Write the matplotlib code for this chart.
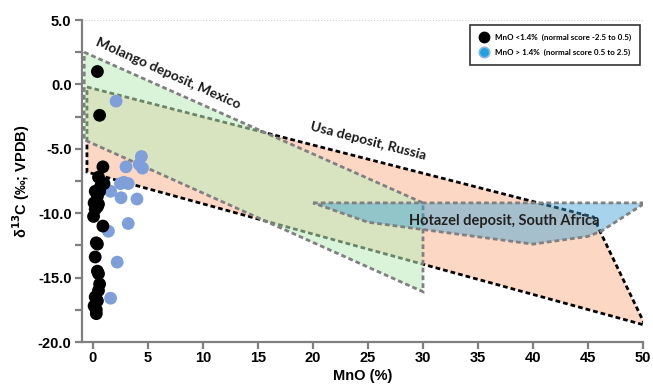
import matplotlib
matplotlib.use("Agg")
import matplotlib.pyplot as plt
from matplotlib.lines import Line2D

# ---------------- data ----------------
black_x = [0.4, 0.6, 0.9, 0.5, 1.0, 0.7, 0.2, 0.6, 0.4, 0.1, 0.5, 0.2, 0.4, 0.05,
           0.9, 0.3, 0.4, 0.2, 0.4, 0.5, 0.6, 0.5, 0.2, 0.4, 0.1, 0.3, 0.3]
black_y = [1.0, -2.4, -6.4, -7.2, -7.7, -7.9, -8.3, -8.3, -8.7, -9.2, -9.3, -9.7, -9.5, -10.25,
           -11.0, -12.3, -12.4, -13.4, -14.5, -14.7, -15.5, -16.0, -16.5, -16.8, -17.2, -17.5, -17.8]

blue_x = [2.1, 4.4, 4.5, 3.0, 4.2, 2.5, 3.2, 2.8, 1.6, 2.55, 4.0, 3.2, 1.4, 2.2, 1.6]
blue_y = [-1.3, -5.6, -6.5, -6.4, -6.2, -7.7, -7.7, -7.6, -8.3, -8.8, -8.9, -10.8, -11.4, -13.8, -16.6]

usa_x = [-0.55, 45.5, 46.2, 50.2, -0.55]
usa_y = [-0.2, -10.3, -11.6, -18.7, -6.8]

molango_x = [-0.8, 30.0, 30.0, -0.8]
molango_y = [2.5, -9.2, -16.1, -4.3]

hotazel_x = [20.0, 50.2, 46.2, 45.0, 40.0, 25.0]
hotazel_y = [-9.2, -9.2, -11.4, -11.8, -12.4, -10.7]

x_ticks = [0, 5, 10, 15, 20, 25, 30, 35, 40, 45, 50]
y_ticks = [5.0, 0.0, -5.0, -10.0, -15.0, -20.0]
y_ticklabels = ["5.0", "0.0", "-5.0", "-10.0", "-15.0", "-20.0"]

legend_labels = ["MnO <1.4%  (normal score -2.5 to 0.5)",
                 "MnO > 1.4%  (normal score 0.5 to 2.5)"]

# ---------------- figure ----------------
fig = plt.figure(figsize=(6.53, 3.84), dpi=100)
ax = fig.add_axes([82/653, 1-342/384, (643-82)/653, (342-20)/384])

dash = (0, (1.7, 1.1))
ax.fill(usa_x, usa_y, facecolor=(0.988, 0.847, 0.77, 1.0), edgecolor="black",
        linestyle=dash, linewidth=2.0, zorder=1)
ax.fill(molango_x, molango_y, facecolor=(0.74, 0.93, 0.74, 0.56), edgecolor="#808080",
        linestyle=dash, linewidth=2.0, zorder=2)
ax.fill(hotazel_x, hotazel_y, facecolor=(0.24, 0.63, 0.84, 0.45), edgecolor="#808080",
        linestyle=dash, linewidth=2.0, zorder=3)

ax.scatter(black_x, black_y, s=85, color="black", edgecolors="none", zorder=6)
ax.scatter(blue_x, blue_y, s=85, color="#7f9fdb", edgecolors="none", zorder=5)

afont = ["Lato", "DejaVu Sans"]
ax.text(6.8, 0.85, "Molango deposit, Mexico", rotation=-24, ha="center", va="center",
        fontsize=10, fontweight="bold", family=afont, color="#1a1a1a", zorder=8,
        rotation_mode="anchor")
ax.text(25.0, -4.4, "Usa deposit, Russia", rotation=-14.5, ha="center", va="center",
        fontsize=10, fontweight="bold", family=afont, color="#1a1a1a", zorder=8,
        rotation_mode="anchor")
ax.text(37.4, -10.6, "Hotazel deposit, South Africa", ha="center", va="center",
        fontsize=10.5, fontweight="bold", family=afont, color="#222222", zorder=8)

ax.set_xlim(-1, 50)
ax.set_ylim(-20, 5)

ax.axhline(5, color="#d0d0d0", linestyle=":", linewidth=0.8, zorder=0)
ax.axvline(50, color="#d0d0d0", linestyle=":", linewidth=0.8, zorder=0)

for s in ["top", "right"]:
    ax.spines[s].set_visible(False)
for s in ["left", "bottom"]:
    ax.spines[s].set_color("#808080")
    ax.spines[s].set_linewidth(1.6)

tfont = "Liberation Sans"
ax.set_xticks(x_ticks)
ax.set_xticklabels([str(v) for v in x_ticks], fontsize=10.5, fontweight="bold", family=tfont)
ax.set_yticks(y_ticks)
ax.set_yticklabels(y_ticklabels, fontsize=10.5, fontweight="bold", family=tfont)
ax.set_yticks([2.5, -2.5, -7.5, -12.5, -17.5], minor=True)
ax.tick_params(axis="both", which="both", color="#808080", width=1.6, direction="out")
ax.tick_params(axis="both", which="major", length=5)
ax.tick_params(axis="x", which="major", pad=1.5)
ax.tick_params(axis="y", which="major", pad=2.5)
ax.tick_params(axis="y", which="minor", length=5)

ax.set_xlabel("MnO (%)", fontsize=10.5, fontweight="bold", family=tfont, labelpad=3)
ax.set_ylabel(r"δ$^{\mathbf{13}}$C (‰; VPDB)", fontsize=10.5, fontweight="bold",
              family=tfont, labelpad=4)

handles = [Line2D([], [], marker="o", linestyle="none", markersize=7.5,
                  markerfacecolor="black", markeredgecolor="black"),
           Line2D([], [], marker="o", linestyle="none", markersize=7.5,
                  markerfacecolor="#1ea2e0", markeredgecolor="#8fb4e8", markeredgewidth=1.2)]
leg = ax.legend(handles, legend_labels, loc="upper right", bbox_to_anchor=(640/653, 1-25/384),
                bbox_transform=fig.transFigure, frameon=True, fancybox=False,
                prop={"family": afont, "weight": "bold", "size": 5.8},
                handletextpad=0.7, borderpad=1.1, labelspacing=0.95, handlelength=1.3,
                borderaxespad=0)
leg.get_frame().set_edgecolor("black")
leg.get_frame().set_linewidth(1.2)
leg.set_zorder(10)

fig.savefig("out.png", dpi=100)
